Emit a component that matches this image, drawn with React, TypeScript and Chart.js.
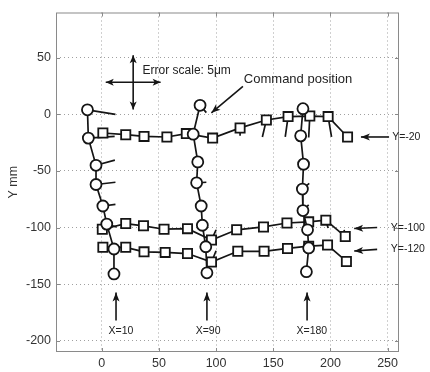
import React, { useEffect, useRef } from "react";
import { Chart, registerables } from "chart.js";
Chart.register(...registerables);

// Axis ticks
const xTickValues = [0, 50, 100, 150, 200, 250];
const yTickValues = [-200, -150, -100, -50, 0, 50];

// Columns (circles): measured positions and error vectors (dx, dy)
const colX10X = [-12.5, -11.7, -5, -5, 1, 4.4, 10.7, 10.7];
const colX10Y = [4, -21, -45, -62, -81, -97, -119, -141];
const colX10Dx = [24.5, 23, 16.5, 17, 11, 8.5, 0, 0];
const colX10Dy = [-4, 1.5, 4.5, 2, 1.5, -2.5, 0, 0];

const colX90X = [86, 80, 84, 83, 87, 88, 91, 92];
const colX90Y = [8, -17.5, -42, -60.5, -81, -98, -117, -140];
const colX90Dx = [5.5, 0, 0, 8.5, 0, 0, 0, 0];
const colX90Dy = [-6.5, 0, 0, 0.5, 0, 0, 0, 0];

const colX180X = [176, 174, 176.5, 175.5, 176, 180, 181, 179];
const colX180Y = [5, -19, -44, -66, -85, -102, -118, -139];
const colX180Dx = [0, 0, 0, 6, 5, 0, 0, 0];
const colX180Dy = [0, 0, 0, 5, 5, 0, 0, 0];

// Rows (squares)
const rowY20X = [1, 21, 37, 57, 74, 97, 121, 144, 163, 182, 198, 215];
const rowY20Y = [-16.5, -18, -19.5, -20, -17, -21, -12, -5, -2, -1.5, -2, -20];
const rowY20Dx = [0, 0, 0, 0, 0, 0, 0, -3.5, -2.5, -1, 3, 0];
const rowY20Dy = [0, 0, 0, 0, 0, 0, -7, -15, -18, -19, -18, 0];

const rowY100X = [0.5, 21, 36.5, 54.5, 75, 96, 118, 141.5, 162, 181, 196, 213];
const rowY100Y = [-101.5, -96.5, -98.5, -101.5, -101, -111, -102, -99.5, -96, -95, -93.5, -108];
const rowY100Dx = [0, 0, 0, 0, 0, 4, 0, 0, 0, 0, 2, -1];
const rowY100Dy = [0, 0, 0, 0, 0, 9, 0, 0, 0, 0, -7, 6];

const rowY120X = [1, 21, 37, 55.5, 75, 96, 119, 142, 162.5, 181, 197.5, 214];
const rowY120Y = [-117.5, -117.5, -121.5, -122, -123, -130.5, -121, -121, -118.5, -116.5, -115.5, -130];
const rowY120Dx = [0, 0, 0, 0, 0, 4, 0, 0, 0, 0, 0, 0];
const rowY120Dy = [0, 0, 0, 0, 0, 10, 0, 0, 0, 0, 0, 0];

const FONT = "'Liberation Sans', Arial, Helvetica, sans-serif";
const INK = "#151515";

function pts(xs: number[], ys: number[]) {
  return xs.map((x, i) => ({ x, y: ys[i] }));
}
function vecs(xs: number[], ys: number[], dxs: number[], dys: number[]) {
  const out: any[] = [];
  xs.forEach((x, i) => {
    if (dxs[i] === 0 && dys[i] === 0) return;
    out.push({ x, y: ys[i] });
    out.push({ x: x + dxs[i], y: ys[i] + dys[i] });
    out.push({ x: null, y: null });
  });
  return out;
}

function markerSet(data: any[], style: string, radius: number) {
  return {
    data,
    showLine: true,
    borderColor: INK,
    borderWidth: 1.7,
    pointStyle: style,
    pointRadius: radius,
    pointBackgroundColor: "#ffffff",
    pointBorderColor: INK,
    pointBorderWidth: 1.8,
    spanGaps: false,
  };
}
function vectorSet(data: any[]) {
  return {
    data,
    showLine: true,
    borderColor: INK,
    borderWidth: 1.7,
    pointRadius: 0,
    spanGaps: false,
  };
}

function drawArrow(ctx: CanvasRenderingContext2D, x1: number, y1: number, x2: number, y2: number, head = 9, half = 3.5, both = false) {
  ctx.beginPath();
  ctx.moveTo(x1, y1);
  ctx.lineTo(x2, y2);
  ctx.stroke();
  const one = (ax: number, ay: number, bx: number, by: number) => {
    const ang = Math.atan2(by - ay, bx - ax);
    const c = Math.cos(ang), s = Math.sin(ang);
    ctx.beginPath();
    ctx.moveTo(bx, by);
    ctx.lineTo(bx - head * c - half * s, by - head * s + half * c);
    ctx.lineTo(bx - head * 0.75 * c, by - head * 0.75 * s);
    ctx.lineTo(bx - head * c + half * s, by - head * s - half * c);
    ctx.closePath();
    ctx.fill();
  };
  one(x1, y1, x2, y2);
  if (both) one(x2, y2, x1, y1);
}

const decorPlugin = {
  id: "decor",
  afterDatasetsDraw(chart: any) {
    const { ctx, chartArea: a, scales } = chart;
    const X = (v: number) => scales.x.getPixelForValue(v);
    const Y = (v: number) => scales.y.getPixelForValue(v);
    ctx.save();
    // box
    ctx.strokeStyle = "#8a8a8a";
    ctx.lineWidth = 1;
    ctx.setLineDash([]);
    ctx.strokeRect(a.left + 0.5, a.top + 0.5, a.right - a.left - 1, a.bottom - a.top - 1);
    // inner ticks
    ctx.beginPath();
    xTickValues.forEach((v) => {
      const p = Math.round(X(v)) + 0.5;
      ctx.moveTo(p, a.bottom); ctx.lineTo(p, a.bottom - 4);
      ctx.moveTo(p, a.top); ctx.lineTo(p, a.top + 4);
    });
    yTickValues.forEach((v) => {
      const p = Math.round(Y(v)) + 0.5;
      ctx.moveTo(a.left, p); ctx.lineTo(a.left + 4, p);
      ctx.moveTo(a.right, p); ctx.lineTo(a.right - 4, p);
    });
    ctx.stroke();

    ctx.strokeStyle = INK;
    ctx.fillStyle = INK;
    ctx.lineWidth = 1.6;
    // error scale cross
    const cx = X(27.5), cy = Y(28.3);
    drawArrow(ctx, X(3.5), cy, X(51.5), cy, 8, 3.5, true);
    drawArrow(ctx, cx, Y(52.3), cx, Y(4.3), 8, 3.5, true);
    // command position arrow
    drawArrow(ctx, X(123.5), Y(24.8), X(95.9), Y(1.4), 9, 3.5);
    // row arrows
    drawArrow(ctx, X(251.3), Y(-20), X(226.7), Y(-20), 9, 3.5);
    drawArrow(ctx, X(240.9), Y(-100), X(220.8), Y(-100.9), 9, 3.5);
    drawArrow(ctx, X(240.9), Y(-119.3), X(220.8), Y(-120.8), 9, 3.5);
    // column arrows
    [12.5, 92, 179.6].forEach((v) => {
      drawArrow(ctx, X(v), Y(-182.2), X(v), Y(-157.4), 9, 3.5);
    });

    // texts
    ctx.textBaseline = "middle";
    ctx.fillStyle = "#222";
    ctx.textAlign = "left";
    ctx.font = `12px ${FONT}`;
    ctx.fillText("Error scale: 5\u03bcm", X(35.7), Y(38.9));
    ctx.font = `13px ${FONT}`;
    ctx.fillText("Command position", X(124.3), Y(31));
    ctx.font = `10.5px ${FONT}`;
    ctx.fillText("Y=-20", X(254), Y(-20));
    ctx.fillText("Y=-100", X(252.8), Y(-100.4));
    ctx.fillText("Y=-120", X(252.8), Y(-119.3));
    ctx.textAlign = "center";
    ctx.fillText("X=10", X(16.8), Y(-191.6));
    ctx.fillText("X=90", X(93), Y(-191.6));
    ctx.fillText("X=180", X(183.8), Y(-191.6));
    ctx.restore();
  },
};

export default function App() {
  const ref = useRef<HTMLCanvasElement>(null);
  useEffect(() => {
    if (!ref.current) return;
    const chart = new Chart(ref.current, {
      type: "scatter",
      data: {
        datasets: [
          markerSet(pts(colX10X, colX10Y), "circle", 5.5),
          markerSet(pts(colX90X, colX90Y), "circle", 5.5),
          markerSet(pts(colX180X, colX180Y), "circle", 5.5),
          markerSet(pts(rowY20X, rowY20Y), "rect", 6.5),
          markerSet(pts(rowY100X, rowY100Y), "rect", 6.5),
          markerSet(pts(rowY120X, rowY120Y), "rect", 6.5),
          vectorSet(vecs(colX10X, colX10Y, colX10Dx, colX10Dy)),
          vectorSet(vecs(colX90X, colX90Y, colX90Dx, colX90Dy)),
          vectorSet(vecs(colX180X, colX180Y, colX180Dx, colX180Dy)),
          vectorSet(vecs(rowY20X, rowY20Y, rowY20Dx, rowY20Dy)),
          vectorSet(vecs(rowY100X, rowY100Y, rowY100Dx, rowY100Dy)),
          vectorSet(vecs(rowY120X, rowY120Y, rowY120Dx, rowY120Dy)),
        ] as any,
      },
      options: {
        animation: false,
        responsive: false,
        maintainAspectRatio: false,
        layout: { padding: { left: 0, right: 31, top: 10, bottom: 0 } },
        plugins: { legend: { display: false }, tooltip: { enabled: false } },
        scales: {
          x: {
            type: "linear",
            min: -40,
            max: 260,
            afterBuildTicks: (axis: any) => {
              axis.ticks = xTickValues.map((v) => ({ value: v }));
            },
            afterFit: (s: any) => { s.height = 20; },
            grid: { color: "#a0a0a0", lineWidth: 1, drawTicks: false },
            border: { display: false, dash: [1, 3] },
            ticks: { padding: 4, color: "#333", font: { size: 12.5, family: FONT } },
          },
          y: {
            type: "linear",
            min: -210,
            max: 90,
            afterBuildTicks: (axis: any) => {
              axis.ticks = yTickValues.map((v) => ({ value: v }));
            },
            afterFit: (s: any) => { s.width = 56; },
            grid: { color: "#a0a0a0", lineWidth: 1, drawTicks: false },
            border: { display: false, dash: [1, 3] },
            ticks: { padding: 5, color: "#333", font: { size: 12.5, family: FONT } },
            title: { display: true, text: "Y mm", color: "#333", font: { size: 12.5, family: FONT }, padding: { top: 6, bottom: 0 } },
          },
        },
      } as any,
      plugins: [decorPlugin],
    });
    return () => chart.destroy();
  }, []);
  return (
    <div style={{ position: "fixed", left: 0, top: 0, width: 430, height: 372, background: "#fff" }}>
      <canvas ref={ref} width={430} height={372} style={{ width: 430, height: 372, display: "block" }} />
    </div>
  );
}
